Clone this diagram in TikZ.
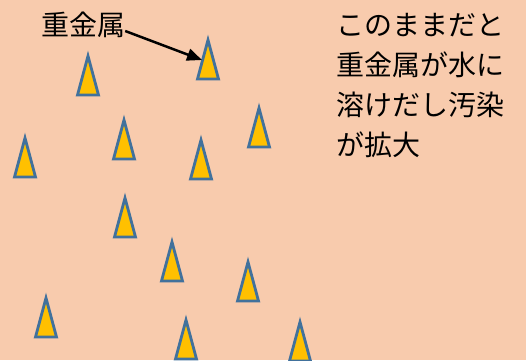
\documentclass[tikz,border=0pt]{standalone}
\usepackage{fontspec}
\newfontfamily\jpfont{Noto Sans CJK JP}
\usetikzlibrary{arrows.meta}
\definecolor{peach}{HTML}{F8CBAD}
\definecolor{ore}{HTML}{FFC000}
\definecolor{oreline}{HTML}{41719C}
\tikzset{
    grain/.style={fill=ore, draw=oreline, line width=2.8pt},
    label/.style={inner sep=0pt, font=\jpfont\fontsize{28}{40}\selectfont}
}
\begin{document}
\begin{tikzpicture}[x=1pt, y=-1pt]
    % Background
    \fill[peach] (0,0) rectangle (526,360);
    \useasboundingbox (0,0) rectangle (526,360);
    \begin{scope}
    \clip (0,0) rectangle (526,360);
    % Draw heavy metal grains
    \foreach \x/\a in {88/51, 25/133, 124/115, 201/135, 259/103, 125/193,
                       172/237, 248/257, 46/293, 186/315, 300/317}
        \filldraw[grain] (\x,\a+5) -- (\x+10.5,\a+44) -- (\x-10.5,\a+44) -- cycle;
    % The grain pointed at
    \filldraw[grain] (208,40) coordinate (b_top) -- (218.5,79) -- (197.5,79) -- cycle;
    \coordinate (b_hit) at (202,60);
    \end{scope}
    % Labels
    \node[label] (metal) at (83,25) {重金属};
    \node[label, anchor=north west, align=left] (note) at (336,13)
        {このままだと\\重金属が水に\\溶けだし汚染\\が拡大};
    \draw[-{Triangle[length=15pt,width=12pt]}, line width=2.5pt]
        ([yshift=-6pt]metal.east) -- (b_hit);
\end{tikzpicture}
\end{document}
